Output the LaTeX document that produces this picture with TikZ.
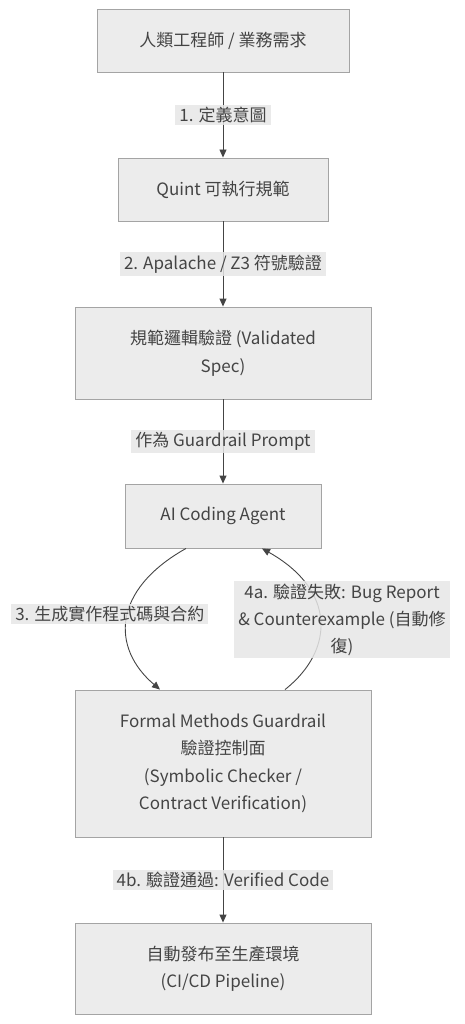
\documentclass[tikz,border=0pt]{standalone}
\usepackage{fontspec}
\setmainfont{Noto Sans CJK TC}
\usetikzlibrary{arrows.meta}

\definecolor{boxfill}{HTML}{ECECEC}
\definecolor{boxline}{HTML}{A4A4A4}
\definecolor{inkgray}{HTML}{444444}
\definecolor{tagfill}{HTML}{E6E6E6}

\tikzset{
  stage/.style={draw=boxline, fill=boxfill, line width=0.9pt, text=inkgray,
    align=center, inner sep=0pt, font=\fontsize{17}{27.5}\selectfont},
  tag/.style={fill=tagfill, fill opacity=0.85, text opacity=1, text=inkgray,
    align=center, inner xsep=4pt, inner ysep=2.5pt, font=\fontsize{17}{27}\selectfont},
  flow/.style={draw=inkgray, line width=0.9pt,
    -{Triangle[length=8pt,width=7pt]}}
}

\begin{document}
\begin{tikzpicture}[x=1pt,y=-1pt]
\useasboundingbox (0,0) rectangle (465,1024);

% Stages
\node[stage, minimum width=252pt, minimum height=63pt] (human) at (223,40.5) {人類工程師 / 業務需求};
\node[stage, minimum width=210pt, minimum height=63pt] (quint) at (223,189.5) {Quint 可執行規範};
\node[stage, minimum width=296pt, minimum height=92pt] (spec) at (223,353) {規範邏輯驗證 (Validated\\Spec)};
\node[stage, minimum width=196pt, minimum height=64pt] (agent) at (223,516) {AI Coding Agent};
\node[stage, minimum width=296pt, minimum height=147pt] (guard) at (223,763.5) {Formal Methods Guardrail\\驗證控制面\\(Symbolic Checker /\\Contract Verification)};
\node[stage, minimum width=296pt, minimum height=91pt] (deploy) at (223,968.5) {自動發布至生產環境\\(CI/CD Pipeline)};

% Straight steps
\draw[flow] (human) -- node[tag] {1. 定義意圖} (quint);
\draw[flow] (quint) -- node[tag] {2. Apalache / Z3 符號驗證} (spec);
\draw[flow] (spec) -- node[tag] {作為 Guardrail Prompt} (agent);
\draw[flow] (guard) -- node[tag] {4b. 驗證通過: Verified Code} (deploy);

% Loop between agent and guardrail
\draw[flow] ([xshift=-37pt]agent.south) .. controls (112,590) and (111,648) .. ([xshift=-63pt]guard.north)
  node[tag, pos=0.5, xshift=-17pt, yshift=5pt] {3. 生成實作程式碼與合約};
\draw[flow] ([xshift=62pt]guard.north) .. controls (335,650) and (336,590) .. ([xshift=39pt]agent.south)
  node[tag, pos=0.5, xshift=22pt] {4a. 驗證失敗: Bug Report\\\& Counterexample (自動修\\復)};

\end{tikzpicture}
\end{document}
